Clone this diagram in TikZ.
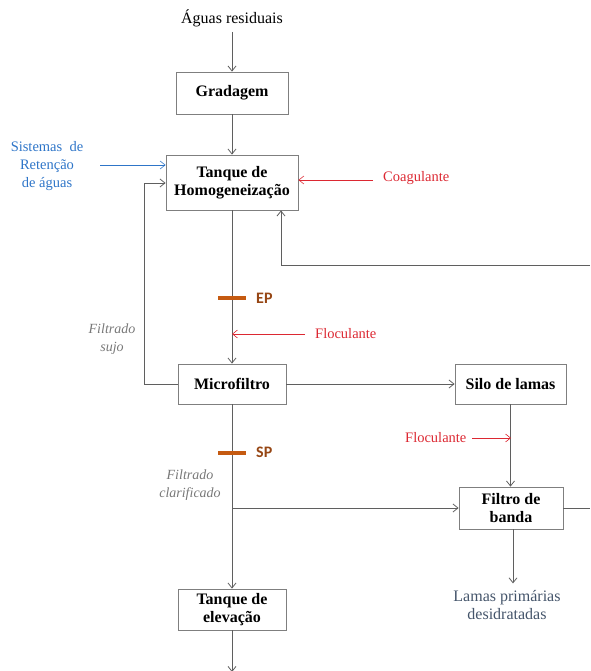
\documentclass[tikz,border=0pt]{standalone}
\usepackage{fontspec}
\setmainfont{Liberation Serif}
\newfontfamily\calfont{Carlito}
\usetikzlibrary{arrows.meta}
\definecolor{lineg}{RGB}{95,95,95}
\definecolor{boxg}{RGB}{127,127,127}
\definecolor{redc}{RGB}{220,40,50}
\definecolor{bluec}{RGB}{46,117,200}
\definecolor{grayt}{RGB}{120,120,120}
\definecolor{orangeb}{RGB}{197,90,17}
\definecolor{eptext}{RGB}{150,70,20}
\definecolor{slate}{RGB}{68,84,106}
\tikzset{
  procbox/.style={draw=boxg, line width=0.8pt, fill=white, align=center, font=\fontsize{16}{18.5}\selectfont\bfseries, inner sep=0pt},
  flow/.style={lineg, line width=0.8pt, -{Straight Barb[length=5pt,width=8pt]}},
  plain/.style={lineg, line width=0.8pt},
  redarr/.style={redc, line width=0.6pt, -{Straight Barb[length=5pt,width=8pt]}},
  bluearr/.style={bluec, line width=0.6pt, -{Straight Barb[length=5pt,width=8pt]}},
  redtxt/.style={text=redc, font=\fontsize{14.5}{16}\selectfont, inner sep=0pt},
  noteg/.style={text=grayt, font=\fontsize{14}{17.5}\selectfont\itshape, align=center, inner sep=0pt},
  bar/.style={orangeb, line width=3.5pt},
  barlbl/.style={text=eptext, font=\fontsize{16}{18}\selectfont\calfont\bfseries, inner sep=0pt}
}
\begin{document}
\begin{tikzpicture}[x=1pt,y=-1pt]
\useasboundingbox (0,0) rectangle (590,671);
% boxes
\node[procbox, minimum width=112pt, minimum height=42pt] (grad) at (232,93) {Gradagem};
\node[procbox, minimum width=132pt, minimum height=55pt] (homo) at (232,182.5) {Tanque de\\Homogeneização};
\node[procbox, minimum width=108pt, minimum height=40pt] (micro) at (232,384) {Microfiltro};
\node[procbox, minimum width=111pt, minimum height=40pt] (silo) at (510.5,384) {Silo de lamas};
\node[procbox, minimum width=104pt, minimum height=42pt] (filtro) at (511,508) {Filtro de\\banda};
\node[procbox, minimum width=108pt, minimum height=41pt] (elev) at (232,609.5) {Tanque de\\elevação};
% texts
\node[inner sep=0pt, font=\fontsize{16}{18}\selectfont] (aguas) at (232,18) {Águas residuais};
\node[text=bluec, align=center, inner sep=0pt, font=\fontsize{14.5}{18}\selectfont] (sist) at (47,166) {Sistemas\ \ de\\Retenção\\de águas};
\node[redtxt, anchor=west] (coag) at (383,178) {Coagulante};
\node[redtxt, anchor=west] (floc1) at (315,334) {Floculante};
\node[redtxt, anchor=west] (floc2) at (405,438) {Floculante};
\node[noteg] (fsujo) at (112,339) {Filtrado\\sujo};
\node[noteg] (fclar) at (190,485) {Filtrado\\clarificado};
\node[text=slate, align=center, inner sep=0pt, font=\fontsize{16}{18}\selectfont] (lamas) at (507,605) {Lamas primárias\\desidratadas};
% coordinates
\coordinate (aguasEnd) at (232,32);
\coordinate (sistA) at (100,165);
\coordinate (retL) at (144,384);
\coordinate (retT) at (144,183);
\coordinate (coagA) at (373,180);
\coordinate (recR) at (590,265);
\coordinate (recL) at (281,265);
\coordinate (flocA) at (305,334);
\coordinate (flocB) at (232,334);
\coordinate (floc2A) at (472,438);
\coordinate (floc2B) at (511,438);
\coordinate (split) at (232,508);
\coordinate (filR) at (590,508);
\coordinate (bottom) at (232,671);
% flows
\draw[flow] (aguasEnd) -- (grad.north);
\draw[flow] (grad.south) -- (homo.north);
\draw[bluearr] (sistA) -- (sistA -| homo.west);
\draw[plain] (micro.west) -- (retL) -- (retT);
\draw[flow] (retT) -- (retT -| homo.west);
\draw[redarr] (coagA) -- (coagA -| homo.east);
\draw[plain] (recR) -- (recL);
\draw[flow] (recL) -- (recL |- homo.south);
\draw[flow] (homo.south) -- (micro.north);
\draw[redarr] (flocA) -- (flocB);
\draw[flow] (micro.east) -- (silo.west);
\draw[flow] (silo.south) -- (silo.south |- filtro.north);
\draw[redarr] (floc2A) -- (floc2B);
\draw[flow] (micro.south) -- (elev.north);
\draw[flow] (split) -- (filtro.west);
\draw[plain] (filtro.east) -- (filR);
\draw[flow] ([xshift=2pt]filtro.south) -- ++(0,54);
\draw[flow] (elev.south) -- ([yshift=-1pt]bottom);
% EP / SP bars
\draw[bar] (218,298) -- (246,298);
\node[barlbl, anchor=west] (eplbl) at (256,298) {EP};
\draw[bar] (218,453) -- (246,453);
\node[barlbl, anchor=west] (splbl) at (256,452) {SP};
\end{tikzpicture}
\end{document}
